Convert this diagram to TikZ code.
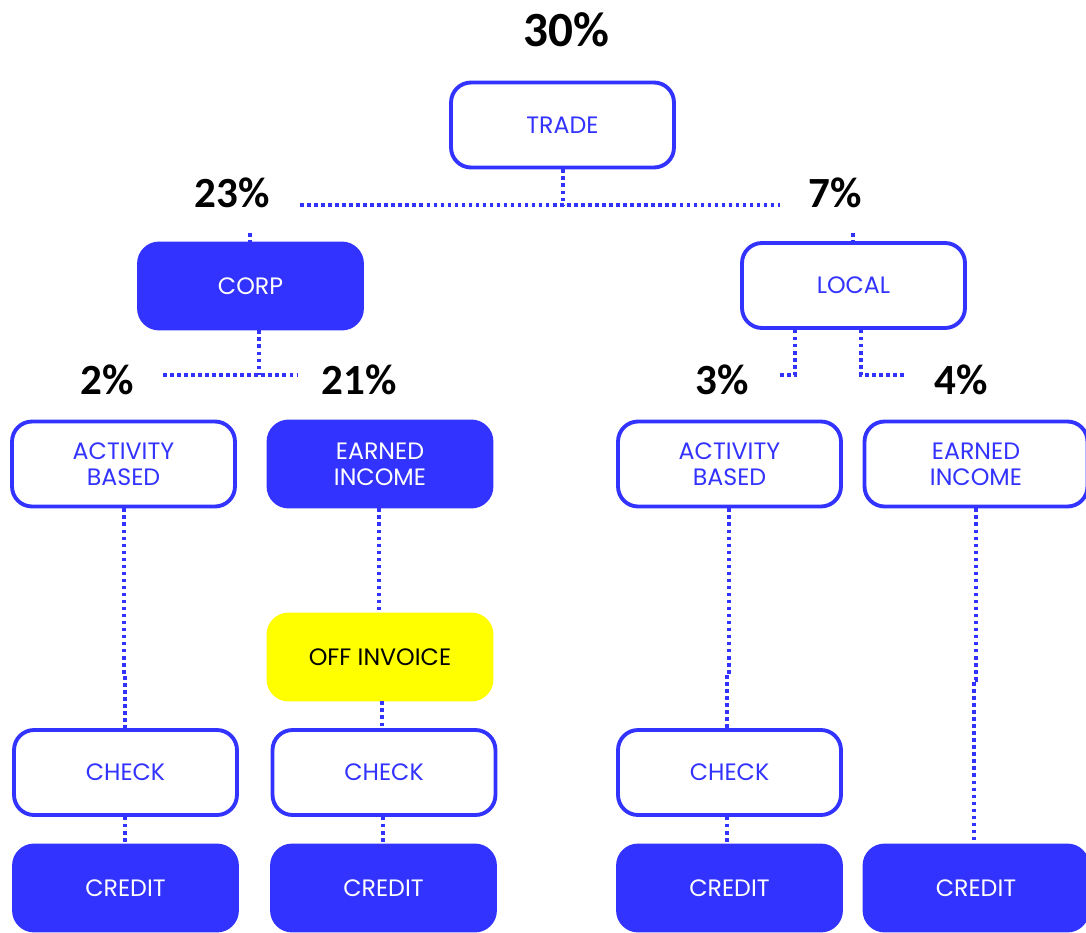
\documentclass[tikz,border=0pt]{standalone}
\usepackage{fontspec}
\newfontfamily\boxfont{Poppins}
\newfontfamily\pctfont{Carlito}
\definecolor{tradeblue}{HTML}{3333FF}
\definecolor{offyellow}{HTML}{FFFF00}
\usetikzlibrary{calc}

\begin{document}
\begin{tikzpicture}[x=0.02cm, y=-0.02cm,
  outbox/.style={rectangle, draw=tradeblue, line width=2.2pt, fill=white, text=tradeblue,
    minimum width=4.46cm, minimum height=1.7cm, align=center,
    font=\boxfont\fontsize{13.5}{15}\selectfont, rounded corners=0.4cm, inner sep=0pt},
  fillbox/.style={outbox, fill=tradeblue, text=white},
  offbox/.style={outbox, draw=offyellow, fill=offyellow, text=black},
  pct/.style={font=\pctfont\bfseries\fontsize{24.5}{28}\selectfont, text=black},
  link/.style={tradeblue, line width=2pt, dash pattern=on 2pt off 2pt}
]
  \useasboundingbox (0,0) rectangle (1086,933);

  \node[pct, font=\pctfont\bfseries\fontsize{28}{32}\selectfont] (p30) at (566,30) {30\%};
  \node[pct] (p23) at (232,193) {23\%};
  \node[pct] (p7) at (835,193) {7\%};
  \node[pct] (p2) at (107,380) {2\%};
  \node[pct] (p21) at (359,380) {21\%};
  \node[pct] (p3) at (722,380) {3\%};
  \node[pct] (p4) at (961,380) {4\%};

  \node[outbox] (trade) at (562.5,125) {TRADE};
  \node[fillbox] (corp) at (250.5,286) {CORP};
  \node[outbox] (local) at (853.5,285.5) {LOCAL};

  \node[outbox] (actcorp) at (123.5,464) {ACTIVITY\\BASED};
  \node[fillbox] (earncorp) at (380,464) {EARNED\\INCOME};
  \node[outbox] (actlocal) at (729.5,464) {ACTIVITY\\BASED};
  \node[outbox] (earnlocal) at (976,464) {EARNED\\INCOME};

  \node[offbox] (offinv) at (380,657) {OFF INVOICE};

  \node[outbox] (check1) at (125.5,772.5) {CHECK};
  \node[outbox] (check2) at (384,772.5) {CHECK};
  \node[outbox] (check3) at (729.5,772.5) {CHECK};

  \node[fillbox] (credit1) at (125.5,888) {CREDIT};
  \node[fillbox] (credit2) at (383.5,888) {CREDIT};
  \node[fillbox] (credit3) at (729.5,888) {CREDIT};
  \node[fillbox] (credit4) at (976,888) {CREDIT};

  \coordinate (tradesplit) at (563,205);
  \coordinate (splitleft) at (300,205);
  \coordinate (splitright) at (780,205);
  \coordinate (corpstub) at (250,233);
  \coordinate (localstub) at (853,233);
  \coordinate (corpleft) at (163,375);
  \coordinate (corpright) at (297,375);
  \coordinate (localleft) at (777,375);
  \coordinate (localright) at (906,375);

  \draw[link] (trade.south -| tradesplit) -- (tradesplit);
  \draw[link] (splitleft) -- (splitright);
  \draw[link] (corpstub) -- (corp.north -| corpstub);
  \draw[link] (localstub) -- (local.north -| localstub);

  \draw[link] (corp.south -| 259,0) -- (259,375);
  \draw[link] (corpleft) -- (corpright);
  \draw[link] (local.south -| 795,0) |- (localleft);
  \draw[link] (local.south -| 861,0) |- (localright);

  \draw[link] (actcorp.south -| 124,0) -- (124,675) -| (check1.north -| 125,0);
  \draw[link] (earncorp.south -| 379,0) -- (offinv.north -| 379,0);
  \draw[link] (offinv.south -| 382,0) -- (check2.north -| 382,0);
  \draw[link] (check1.south -| 125,0) -- (credit1.north -| 125,0);
  \draw[link] (check2.south -| 383,0) -- (credit2.north -| 383,0);

  \draw[link] (actlocal.south -| 729,0) -- (729,675) -| (check3.north -| 727,0);
  \draw[link] (check3.south -| 727,0) -- (credit3.north -| 727,0);
  \draw[link] (earnlocal.south -| 976,0) -- (976,680) -| (credit4.north -| 974,0);
\end{tikzpicture}
\end{document}
